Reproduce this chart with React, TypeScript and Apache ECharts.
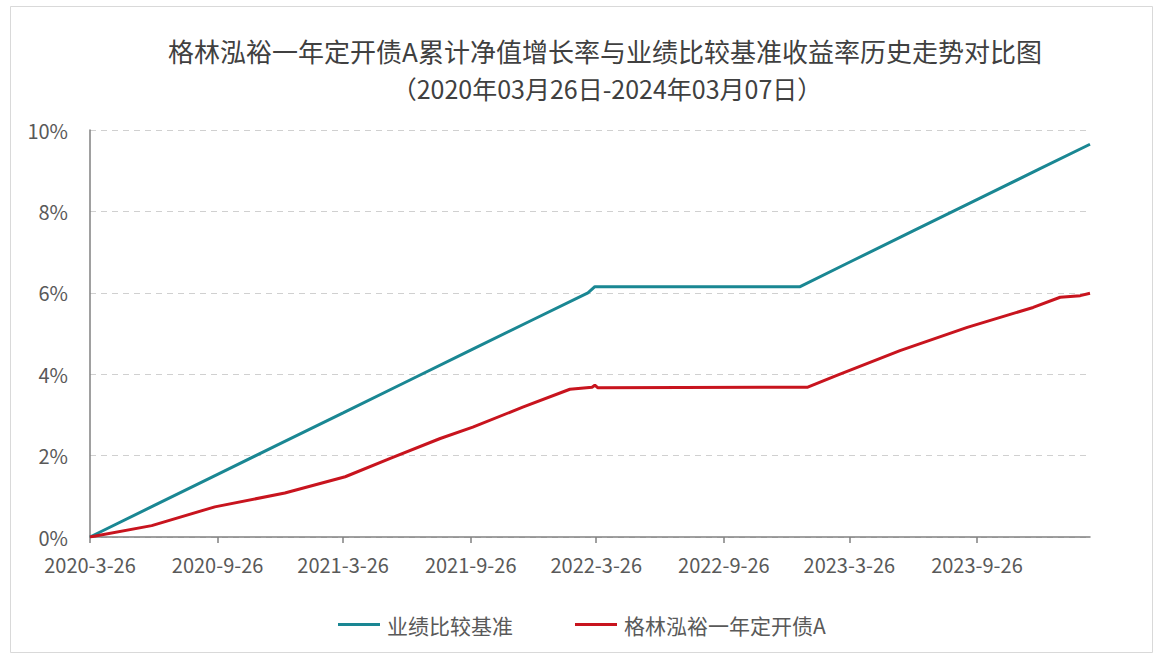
import React, { useEffect, useRef } from "react";
import * as echarts from "echarts";

const START = "2020-03-26";
const END = "2024-03-07";

const titleLine1 = "格林泓裕一年定开债A累计净值增长率与业绩比较基准收益率历史走势对比图";
const titleLine2 = "（2020年03月26日-2024年03月07日）";

const tickDates = ["2020-03-26", "2020-09-26", "2021-03-26", "2021-09-26", "2022-03-26", "2022-09-26", "2023-03-26", "2023-09-26"];
const tickLabels = ["2020-3-26", "2020-9-26", "2021-3-26", "2021-9-26", "2022-3-26", "2022-9-26", "2023-3-26", "2023-9-26"];

const yTicks = [0, 2, 4, 6, 8, 10];

const benchName = "业绩比较基准";
const benchDates = ["2020-03-26", "2020-06-26", "2020-09-26", "2020-12-26", "2021-03-26", "2021-06-26", "2021-09-26", "2021-12-26", "2022-03-14", "2022-03-24", "2023-01-14", "2023-03-26", "2023-06-26", "2023-09-26", "2023-12-26", "2024-03-07"];
const benchValues = [0, 0.77, 1.54, 2.30, 3.05, 3.82, 4.59, 5.35, 6.00, 6.15, 6.15, 6.75, 7.52, 8.29, 9.05, 9.65];

const fundName = "格林泓裕一年定开债A";
const fundDates = ["2020-03-26", "2020-06-23", "2020-09-22", "2021-01-01", "2021-03-29", "2021-06-02", "2021-08-13", "2021-09-29", "2021-12-10", "2022-02-16", "2022-03-20", "2022-03-24", "2022-03-28", "2023-01-25", "2023-03-08", "2023-06-07", "2023-09-12", "2023-12-16", "2024-01-24", "2024-02-22", "2024-03-07"];
const fundValues = [0, 0.28, 0.74, 1.08, 1.48, 1.93, 2.42, 2.70, 3.19, 3.63, 3.68, 3.73, 3.67, 3.68, 3.97, 4.58, 5.15, 5.64, 5.89, 5.93, 5.99];

const dayOf = (s: string) => {
  const [y, m, d] = s.split("-").map(Number);
  const [y0, m0, d0] = START.split("-").map(Number);
  return Math.round((Date.UTC(y, m - 1, d) - Date.UTC(y0, m0 - 1, d0)) / 86400000);
};

const FONT = "'Noto Sans CJK SC', 'Noto Sans', sans-serif";

export default function App() {
  const ref = useRef<HTMLDivElement>(null);
  useEffect(() => {
    if (!ref.current) return;
    const chart = echarts.init(ref.current, undefined, { renderer: "svg" });
    const tickDays = tickDates.map(dayOf);
    const labelMap: Record<number, string> = {};
    tickDays.forEach((d, i) => (labelMap[d] = tickLabels[i]));
    chart.setOption({
      animation: false,
      backgroundColor: "#ffffff",
      textStyle: { fontFamily: FONT },
      graphic: [
        {
          type: "rect",
          shape: { x: 10.5, y: 6.5, width: 1142, height: 646 },
          style: { fill: "none", stroke: "#d9d9d9", lineWidth: 1 },
          silent: true,
        },
        {
          type: "text",
          x: 605,
          y: 50,
          style: { text: titleLine1, fontSize: 26, fill: "#404040", fontFamily: FONT, align: "center", verticalAlign: "middle" },
        },
        {
          type: "text",
          x: 607,
          y: 88,
          style: { text: titleLine2, fontSize: 25, fill: "#404040", fontFamily: FONT, align: "center", verticalAlign: "middle" },
        },
      ],
      legend: {
        left: 333,
        top: 609,
        icon: "rect",
        itemWidth: 42,
        itemHeight: 3,
        itemGap: 62,
        textStyle: { fontSize: 21, color: "#595959", fontFamily: FONT, padding: [0, 0, 0, 2] },
        data: [benchName, fundName],
      },
      grid: { left: 90, right: 72, top: 130, bottom: 123 },
      xAxis: {
        type: "value",
        min: dayOf(START),
        max: dayOf(END),
        splitLine: { show: false },
        axisLine: { show: true, lineStyle: { color: "#808080", width: 1.5 } },
        axisTick: { show: true, length: 6, customValues: tickDays, lineStyle: { color: "#808080", width: 1.5 } },
        axisLabel: {
          customValues: tickDays,
          formatter: (v: number) => labelMap[v] ?? "",
          fontSize: 20,
          color: "#595959",
          margin: 17,
          fontFamily: FONT,
        },
      },
      yAxis: {
        type: "value",
        min: 0,
        max: 10,
        interval: 2,
        axisLine: { show: true, lineStyle: { color: "#808080", width: 1.5 } },
        axisTick: { show: false },
        axisLabel: {
          formatter: (v: number) => (yTicks.includes(v) ? v + "%" : ""),
          fontSize: 20,
          color: "#595959",
          margin: 22,
          fontFamily: FONT,
        },
        splitLine: { show: true, lineStyle: { type: [6, 5], color: "#d0d0d0", width: 1 } },
      },
      series: [
        {
          name: benchName,
          type: "line",
          showSymbol: false,
          symbol: "none",
          lineStyle: { color: "#1a8793", width: 3 },
          itemStyle: { color: "#1a8793" },
          data: benchDates.map((d, i) => [dayOf(d), benchValues[i]]),
          z: 2,
        },
        {
          name: fundName,
          type: "line",
          showSymbol: false,
          symbol: "none",
          lineStyle: { color: "#c8141e", width: 3 },
          itemStyle: { color: "#c8141e" },
          data: fundDates.map((d, i) => [dayOf(d), fundValues[i]]),
          z: 3,
        },
      ],
    });
    return () => chart.dispose();
  }, []);
  return <div ref={ref} style={{ position: "fixed", left: 0, top: 0, width: 1162, height: 660 }} />;
}
